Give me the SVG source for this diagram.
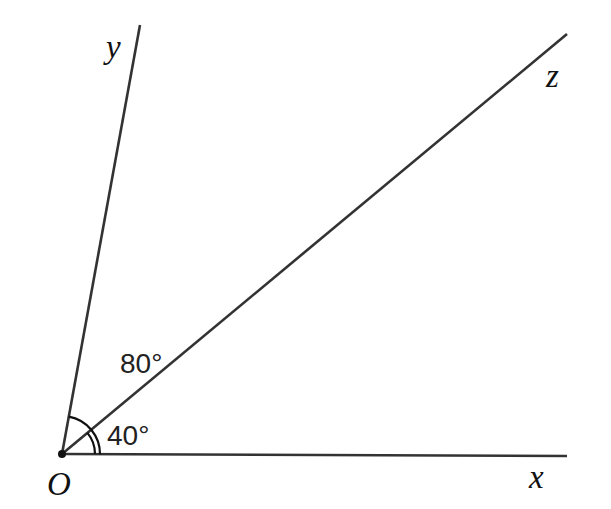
<svg xmlns="http://www.w3.org/2000/svg" width="611" height="509" viewBox="0 0 611 509">
<style>
.ray{stroke:#333;stroke-width:2.6;fill:none;stroke-linecap:butt}
.arc{stroke:#111;stroke-width:2.2;fill:none}
.lbl{font-family:"Liberation Serif",serif;font-style:italic;font-size:33px;fill:#111}
.ang{font-family:"Liberation Sans",Arial,sans-serif;font-size:28px;fill:#222}
</style>
<rect width="611" height="509" fill="#fff"/>
<g id="connectors">
<line class="ray" x1="62" y1="454" x2="567" y2="456"/>
<line class="ray" x1="62" y1="454" x2="140" y2="25"/>
<line class="ray" x1="62" y1="454" x2="567" y2="34"/>
</g>
<g id="angles">
<path class="arc" d="M68.8,416.6 A38,38 0 0 1 100,454.2"/>
<path class="arc" d="M87.4,432.9 A33,33 0 0 1 95,454.1"/>
</g>
<g id="node-O">
<circle cx="62" cy="454" r="4" fill="#111"/>
<text class="lbl" x="47" y="495">O</text>
</g>
<g id="node-x"><text class="lbl" x="529" y="488">x</text></g>
<g id="node-y"><text class="lbl" x="106" y="58">y</text></g>
<g id="node-z"><text class="lbl" x="546" y="87">z</text></g>
<g id="labels">
<text class="ang" x="120" y="373">80°</text>
<text class="ang" x="107" y="445">40°</text>
</g>
</svg>
